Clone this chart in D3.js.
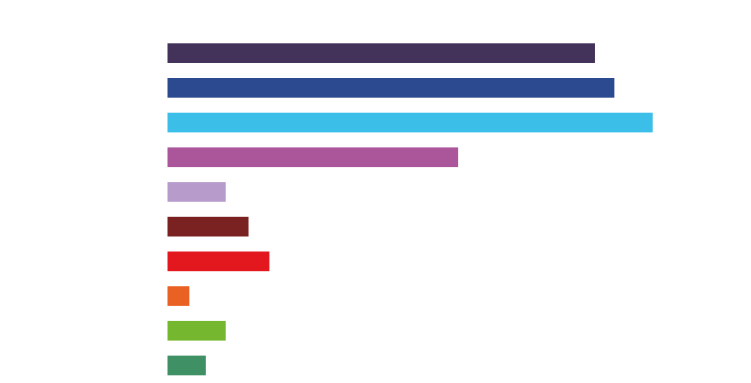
<!DOCTYPE html>
<html>
<head>
<meta charset="utf-8">
<script src="https://cdn.jsdelivr.net/npm/d3@7"></script>
<style>
  html, body { margin: 0; padding: 0; background: #ffffff; }
  svg { display: block; }
</style>
</head>
<body>
<svg id="chart" width="751" height="383"></svg>
<script>
const categories = ["A", "B", "C", "D", "E", "F", "G", "H", "I", "J"];
const values = [88.1, 92.1, 100, 59.9, 12, 16.7, 21, 4.5, 12, 7.9];
const colors = ["#43325a", "#2c4a8f", "#3bbfe8", "#ab569b", "#b79ccb", "#7a2121", "#e3181f", "#ea6124", "#75b72e", "#3f9065"];

const svg = d3.select("#chart");
const x = d3.scaleLinear().domain([0, 100]).range([167.5, 652.7]);
const y = d3.scaleBand().domain(categories).range([43.3, 375.3]).paddingInner(0.433).paddingOuter(0);

svg.selectAll("rect.bar")
  .data(categories)
  .join("rect")
  .attr("class", "bar")
  .attr("x", x(0))
  .attr("y", d => y(d))
  .attr("width", (d, i) => x(values[i]) - x(0))
  .attr("height", y.bandwidth())
  .attr("fill", (d, i) => colors[i]);
</script>
</body>
</html>
